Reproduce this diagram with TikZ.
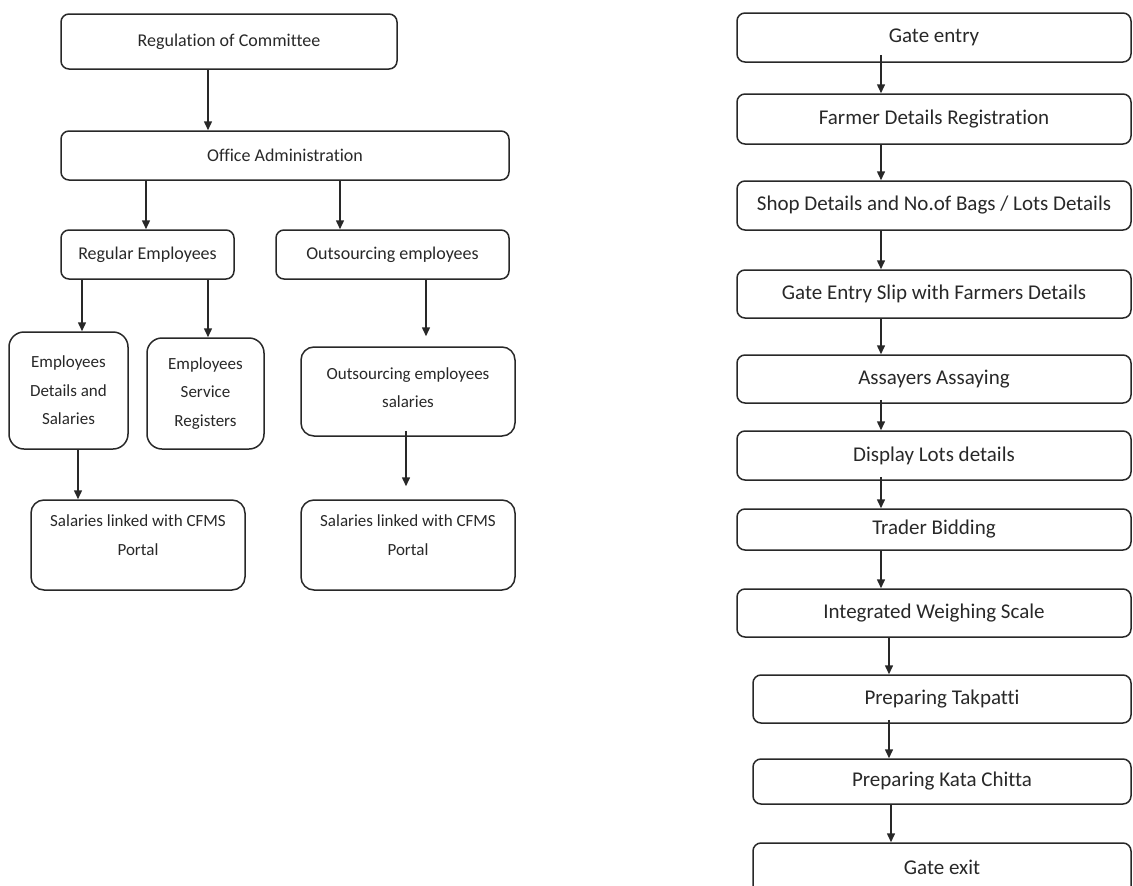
\documentclass[tikz,border=0pt]{standalone}
\usepackage{fontspec}
\setmainfont[RawFeature={-liga}]{Carlito}
\usetikzlibrary{arrows.meta}
\definecolor{ink}{RGB}{40,40,40}
\tikzset{
  box/.style={draw=ink, line width=1.5pt, rounded corners=8pt, inner sep=0pt, align=center, text=ink,
              font=\fontsize{17}{28.5}\selectfont},
  big/.style={font=\fontsize{18}{28.5}\selectfont},
  rbox/.style={font=\fontsize{21}{28}\selectfont},
  arr/.style={draw=ink, line width=1.5pt, -{Triangle[length=9pt,width=8pt]}}
}
\newcommand{\bx}[7][]{\node[box,#1, minimum width={(#5-#3)*1pt}, minimum height={(#6-#4)*1pt}] (#2) at ({(#3+#5)/2},{(#4+#6)/2}) {#7};}
\begin{document}
\begin{tikzpicture}[x=1pt,y=-1pt]
\useasboundingbox (0,0) rectangle (1133,886);
\clip (0,0) rectangle (1133,886);
% left tree
\bx[big]{reg}{61}{14}{397}{69}{Regulation of Committee}
\bx[big]{off}{61}{131}{509}{180}{Office Administration}
\bx[big]{rege}{61}{230}{234}{279}{Regular Employees}
\bx[big]{oute}{276}{230}{509}{279}{Outsourcing employees}
\bx[rounded corners=15pt]{eds}{9}{332}{128}{449}{Employees\\Details and\\Salaries}
\bx[rounded corners=15pt]{esr}{147}{338}{264}{449}{Employees\\Service\\Registers}
\bx[rounded corners=13pt, text depth=8pt]{oes}{301}{347}{515}{436}{Outsourcing employees\\salaries}
\bx[rounded corners=13pt, text depth=20pt]{sl1}{31}{500}{245}{590}{Salaries linked with CFMS\\Portal}
\bx[rounded corners=13pt, text depth=20pt]{sl2}{301}{500}{515}{590}{Salaries linked with CFMS\\Portal}
\draw[arr] (reg.south -| 208,0) -- (off.north -| 208,0);
\draw[arr] (off.south -| 146,0) -- (rege.north -| 146,0);
\draw[arr] (off.south -| 340,0) -- (oute.north -| 340,0);
\draw[arr] (rege.south -| 82,0) -- (eds.north -| 82,0);
\draw[arr] (rege.south -| 208,0) -- (esr.north -| 208,0);
\draw[arr] (oute.south -| 426,0) -- ([yshift=10pt]oes.north -| 426,0);
\draw[arr] (eds.south -| 78,0) -- (sl1.north -| 78,0);
\draw[arr] ([yshift=6pt]oes.south -| 406,0) -- ([yshift=13pt]sl2.north -| 406,0);
% right flow
\bx[rbox]{g1}{737}{13}{1131}{62}{Gate entry}
\bx[rbox]{g2}{737}{94}{1131}{144}{Farmer Details Registration}
\bx[rbox]{g3}{737}{181}{1131}{230}{Shop Details and No.of Bags / Lots Details}
\bx[rbox]{g4}{737}{270}{1131}{318}{Gate Entry Slip with Farmers Details}
\bx[rbox]{g5}{737}{355}{1131}{403}{Assayers Assaying}
\bx[rbox]{g6}{737}{431}{1131}{480}{Display Lots details}
\bx[rbox]{g7}{737}{509}{1131}{550}{Trader Bidding}
\bx[rbox]{g8}{737}{589}{1131}{637}{Integrated Weighing Scale}
\bx[rbox]{g9}{753}{675}{1131}{723}{Preparing Takpatti}
\bx[rbox]{g10}{753}{759}{1131}{804}{Preparing Kata Chitta}
\bx[rbox, text depth=18pt]{g11}{753}{843}{1131}{910}{Gate exit}
\draw[arr] ([yshift=8pt]g1.south -| 881,0) -- (g2.north -| 881,0);
\draw[arr] (g2.south -| 881,0) -- (g3.north -| 881,0);
\draw[arr] (g3.south -| 881,0) -- (g4.north -| 881,0);
\draw[arr] (g4.south -| 881,0) -- (g5.north -| 881,0);
\draw[arr] ([yshift=4pt]g5.south -| 881,0) -- (g6.north -| 881,0);
\draw[arr] ([yshift=4pt]g6.south -| 881,0) -- (g7.north -| 881,0);
\draw[arr] (g7.south -| 881,0) -- (g8.north -| 881,0);
\draw[arr] (g8.south -| 889,0) -- (g9.north -| 889,0);
\draw[arr] ([yshift=4pt]g9.south -| 889,0) -- (g10.north -| 889,0);
\draw[arr] (g10.south -| 891,0) -- (g11.north -| 891,0);
\end{tikzpicture}
\end{document}
